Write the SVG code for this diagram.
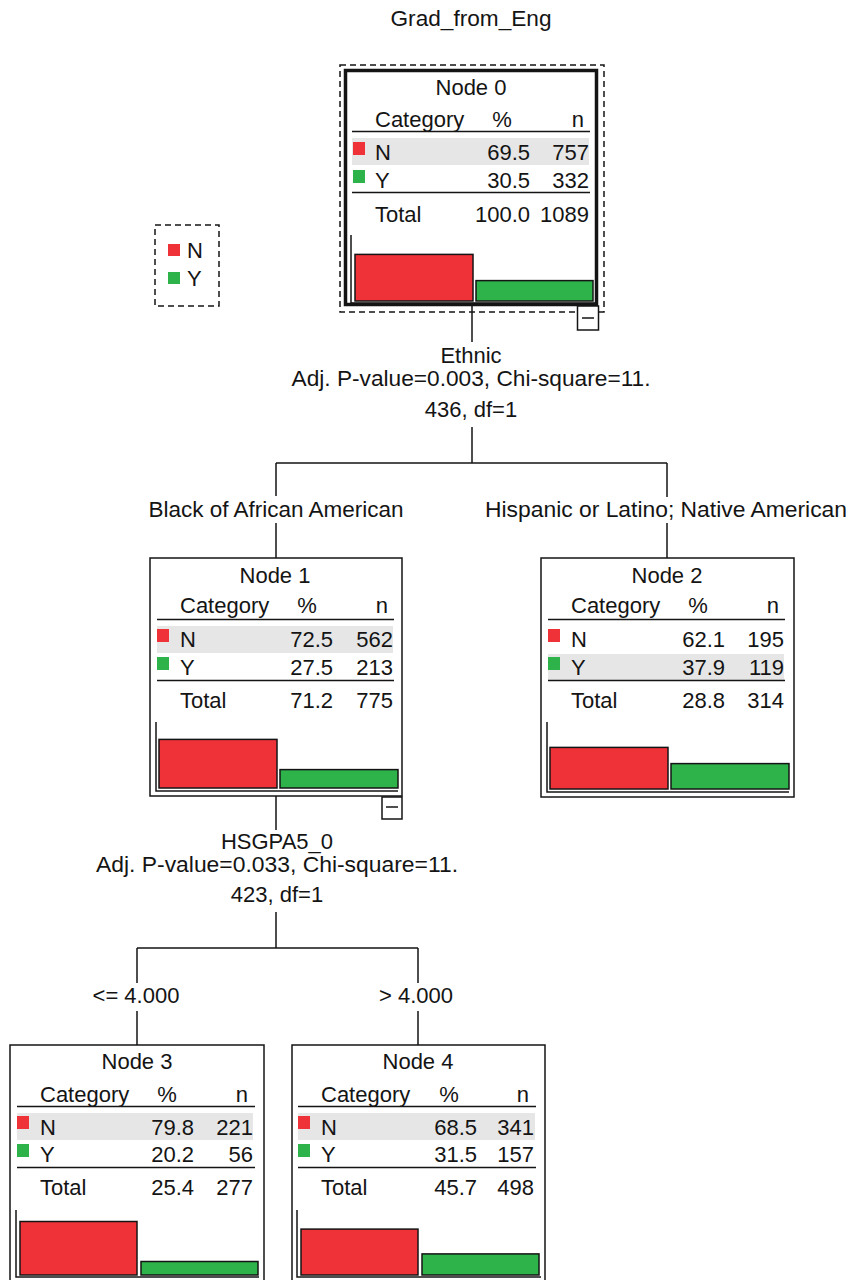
<svg xmlns="http://www.w3.org/2000/svg" width="849" height="1280" viewBox="0 0 849 1280">
<style>
text { font-family: "Liberation Sans", Arial, sans-serif; font-size: 22px; fill: #141414; }
.c { text-anchor: middle; }
.r { text-anchor: end; }
.box { fill: #fff; stroke: #141414; stroke-width: 1.5; }
.ln { stroke: #141414; stroke-width: 1.5; fill: none; }
.row { fill: #e6e6e6; }
.red { fill: #ee3238; stroke: #141414; stroke-width: 1.5; }
.grn { fill: #2db34a; stroke: #141414; stroke-width: 1.5; }
.sqr { fill: #ee3238; }
.sqg { fill: #2db34a; }
.dash { fill: none; stroke: #141414; stroke-width: 1.5; stroke-dasharray: 6 4; }
</style>

<text class="c" x="471" y="26" textLength="161" lengthAdjust="spacingAndGlyphs">Grad_from_Eng</text>

<g id="legend">
  <rect class="dash" x="155" y="225" width="64" height="81"/>
  <rect class="sqr" x="168" y="244" width="12" height="12"/>
  <rect class="sqg" x="168" y="272" width="12" height="12"/>
  <text x="187" y="258">N</text>
  <text x="187" y="286">Y</text>
</g>

<g id="connectors">
  <path class="ln" d="M472 306V342 M472 427V463 M276 463H667 M276 463V496 M667 463V497 M276 523V558 M667 523V558"/>
  <path class="ln" d="M276 796V830 M276 912V948 M137 948H418 M137 948V983 M418 948V983 M137 1011V1045 M418 1011V1045"/>
  <text class="c" x="471" y="363">Ethnic</text>
  <text class="c" x="471" y="386" textLength="359" lengthAdjust="spacingAndGlyphs">Adj. P-value=0.003, Chi-square=11.</text>
  <text class="c" x="471" y="417">436, df=1</text>
  <text class="c" x="276" y="517" textLength="255" lengthAdjust="spacingAndGlyphs">Black of African American</text>
  <text class="c" x="666" y="517" textLength="362" lengthAdjust="spacingAndGlyphs">Hispanic or Latino; Native American</text>
  <text class="c" x="277" y="849">HSGPA5_0</text>
  <text class="c" x="277" y="872" textLength="362" lengthAdjust="spacingAndGlyphs">Adj. P-value=0.033, Chi-square=11.</text>
  <text class="c" x="277" y="902">423, df=1</text>
  <text class="c" x="136" y="1003">&lt;= 4.000</text>
  <text class="c" x="416" y="1003">&gt; 4.000</text>
</g>

<g id="node0">
  <rect class="dash" x="340" y="65" width="264" height="247"/>
  <rect x="345.5" y="70.5" width="251" height="234" fill="#fff" stroke="#141414" stroke-width="3.5"/>
  <text class="c" x="471" y="95">Node 0</text>
  <text x="375" y="127">Category</text>
  <text class="c" x="502" y="127">%</text>
  <text class="r" x="584" y="127">n</text>
  <path class="ln" d="M352 131.5H590"/>
  <rect class="row" x="352" y="138" width="237" height="27"/>
  <rect class="sqr" x="353" y="142" width="12" height="13"/>
  <rect class="sqg" x="353" y="170" width="12" height="13"/>
  <text x="375" y="160">N</text>
  <text class="r" x="530" y="160">69.5</text>
  <text class="r" x="589" y="160">757</text>
  <text x="375" y="188">Y</text>
  <text class="r" x="530" y="188">30.5</text>
  <text class="r" x="589" y="188">332</text>
  <path class="ln" d="M352 192.5H590"/>
  <text x="375" y="222">Total</text>
  <text class="r" x="530" y="222">100.0</text>
  <text class="r" x="589" y="222">1089</text>
  <path class="ln" d="M351 235V303H596"/>
  <rect class="red" x="355" y="254.4" width="118" height="46.6"/>
  <rect class="grn" x="476" y="280.6" width="117" height="20.4"/>
  <rect class="box" x="577.5" y="306" width="21" height="24"/>
  <path class="ln" d="M582 318H594"/>
</g>

<g id="node1" transform="translate(150,558)">
  <rect class="box" x="0" y="0" width="252" height="238"/>
  <text class="c" x="125" y="25">Node 1</text>
  <text x="30" y="55">Category</text>
  <text class="c" x="157" y="55">%</text>
  <text class="r" x="238" y="55">n</text>
  <path class="ln" d="M7 61.5H244"/>
  <rect class="row" x="7" y="68" width="236" height="27"/>
  <rect class="sqr" x="7" y="71" width="12" height="13"/>
  <rect class="sqg" x="7" y="99" width="12" height="13"/>
  <text x="30" y="89">N</text>
  <text class="r" x="183" y="89">72.5</text>
  <text class="r" x="243" y="89">562</text>
  <text x="30" y="117">Y</text>
  <text class="r" x="183" y="117">27.5</text>
  <text class="r" x="243" y="117">213</text>
  <path class="ln" d="M7 122.5H244"/>
  <text x="30" y="150">Total</text>
  <text class="r" x="183" y="150">71.2</text>
  <text class="r" x="243" y="150">775</text>
  <path class="ln" d="M6 164V233H248"/>
  <rect class="red" x="9" y="181.4" width="118" height="48.6"/>
  <rect class="grn" x="130" y="211.6" width="118" height="18.4"/>
  <rect class="box" x="232" y="239" width="20" height="22"/>
  <path class="ln" d="M236 249H248"/>
</g>

<g id="node2" transform="translate(541,558)">
  <rect class="box" x="0" y="0" width="253" height="239"/>
  <text class="c" x="126" y="25">Node 2</text>
  <text x="30" y="55">Category</text>
  <text class="c" x="157" y="55">%</text>
  <text class="r" x="238" y="55">n</text>
  <path class="ln" d="M7 61.5H244"/>
  <rect class="row" x="7" y="96" width="236" height="26"/>
  <rect class="sqr" x="7" y="71" width="12" height="13"/>
  <rect class="sqg" x="7" y="99" width="12" height="13"/>
  <text x="30" y="89">N</text>
  <text class="r" x="184" y="89">62.1</text>
  <text class="r" x="243" y="89">195</text>
  <text x="30" y="117">Y</text>
  <text class="r" x="184" y="117">37.9</text>
  <text class="r" x="243" y="117">119</text>
  <path class="ln" d="M7 122.5H244"/>
  <text x="30" y="150">Total</text>
  <text class="r" x="184" y="150">28.8</text>
  <text class="r" x="243" y="150">314</text>
  <path class="ln" d="M6 164V234H248"/>
  <rect class="red" x="9" y="189.4" width="118" height="41.6"/>
  <rect class="grn" x="130" y="205.6" width="118" height="25.4"/>
</g>

<g id="node3" transform="translate(10,1045)">
  <rect class="box" x="0" y="0" width="254" height="238"/>
  <text class="c" x="127" y="24">Node 3</text>
  <text x="30" y="57">Category</text>
  <text class="c" x="157" y="57">%</text>
  <text class="r" x="238" y="57">n</text>
  <path class="ln" d="M7 61.5H245"/>
  <rect class="row" x="7" y="68" width="236" height="27"/>
  <rect class="sqr" x="7" y="71" width="12" height="13"/>
  <rect class="sqg" x="7" y="99" width="12" height="13"/>
  <text x="30" y="90">N</text>
  <text class="r" x="184" y="90">79.8</text>
  <text class="r" x="243" y="90">221</text>
  <text x="30" y="117">Y</text>
  <text class="r" x="184" y="117">20.2</text>
  <text class="r" x="243" y="117">56</text>
  <path class="ln" d="M7 122.5H245"/>
  <text x="30" y="150">Total</text>
  <text class="r" x="184" y="150">25.4</text>
  <text class="r" x="243" y="150">277</text>
  <path class="ln" d="M6 165V232H249"/>
  <rect class="red" x="10" y="176.5" width="117" height="53.5"/>
  <rect class="grn" x="131" y="216.5" width="117" height="13.5"/>
</g>

<g id="node4" transform="translate(292,1045)">
  <rect class="box" x="0" y="0" width="253" height="238"/>
  <text class="c" x="126" y="24">Node 4</text>
  <text x="29" y="57">Category</text>
  <text class="c" x="157" y="57">%</text>
  <text class="r" x="237" y="57">n</text>
  <path class="ln" d="M6 61.5H244"/>
  <rect class="row" x="6" y="68" width="237" height="27"/>
  <rect class="sqr" x="6" y="71" width="12" height="13"/>
  <rect class="sqg" x="6" y="99" width="12" height="13"/>
  <text x="29" y="90">N</text>
  <text class="r" x="185" y="90">68.5</text>
  <text class="r" x="242" y="90">341</text>
  <text x="29" y="117">Y</text>
  <text class="r" x="185" y="117">31.5</text>
  <text class="r" x="242" y="117">157</text>
  <path class="ln" d="M6 122.5H244"/>
  <text x="29" y="150">Total</text>
  <text class="r" x="185" y="150">45.7</text>
  <text class="r" x="242" y="150">498</text>
  <path class="ln" d="M5 165V232H249"/>
  <rect class="red" x="9" y="184.1" width="117" height="45.9"/>
  <rect class="grn" x="130" y="208.9" width="117" height="21.1"/>
</g>
</svg>
